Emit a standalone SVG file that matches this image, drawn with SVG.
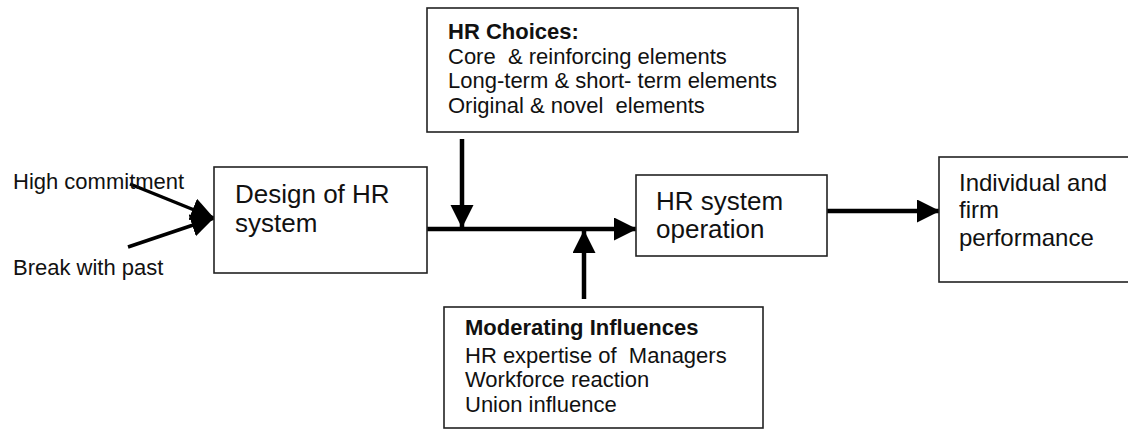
<svg xmlns="http://www.w3.org/2000/svg" width="1128" height="430" viewBox="0 0 1128 430">
<defs>
<style>
.box{fill:#fff;stroke:#222;stroke-width:1.6}
.t{font-family:"Liberation Sans",Arial,sans-serif;fill:#111;white-space:pre}
.s22{font-size:22px}
.s26{font-size:26px}
.s24{font-size:24px}
.b{font-weight:bold}
.c{stroke:#000;fill:none}
</style>
<marker id="ah" markerUnits="userSpaceOnUse" markerWidth="24" markerHeight="24" refX="23" refY="11.5" orient="auto">
<path d="M0,0 L23,11.5 L0,23 Z" fill="#000"/>
</marker>
</defs>
<rect width="1128" height="430" fill="#fff"/>
<g id="connectors">
<line class="c" x1="130" y1="184" x2="214" y2="218" stroke-width="3.5" marker-end="url(#ah)"/>
<line class="c" x1="128" y1="247" x2="214" y2="218" stroke-width="3.5" marker-end="url(#ah)"/>
<line class="c" x1="427" y1="229" x2="637" y2="229" stroke-width="4.5" marker-end="url(#ah)"/>
<line class="c" x1="462" y1="139" x2="462" y2="228" stroke-width="4.5" marker-end="url(#ah)"/>
<line class="c" x1="584" y1="299" x2="584" y2="230" stroke-width="4.5" marker-end="url(#ah)"/>
<line class="c" x1="827" y1="211" x2="940" y2="211" stroke-width="4.5" marker-end="url(#ah)"/>
</g>
<g id="label-high-commitment">
<text class="t s22" x="13" y="189">High commitment</text>
</g>
<g id="label-break">
<text class="t s22" x="13" y="275">Break with past</text>
</g>
<g id="design">
<rect class="box" x="214" y="167" width="213" height="106"/>
<text class="t s26" x="235" y="203">Design of HR</text>
<text class="t s26" x="235" y="232">system</text>
</g>
<g id="hr-choices">
<rect class="box" x="427" y="8" width="371" height="124"/>
<text class="t s22 b" x="448" y="39">HR Choices:</text>
<text class="t s22" x="448" y="64">Core  &amp; reinforcing elements</text>
<text class="t s22" x="448" y="88">Long-term &amp; short- term elements</text>
<text class="t s22" x="448" y="113">Original &amp; novel  elements</text>
</g>
<g id="operation">
<rect class="box" x="636" y="175" width="191" height="81"/>
<text class="t s26" x="656" y="210">HR system</text>
<text class="t s26" x="656" y="238">operation</text>
</g>
<g id="performance">
<rect class="box" x="939" y="157" width="200" height="125"/>
<text class="t s24" x="959" y="191">Individual and</text>
<text class="t s24" x="959" y="218">firm</text>
<text class="t s24" x="959" y="246">performance</text>
</g>
<g id="moderating">
<rect class="box" x="444" y="307" width="319" height="121"/>
<text class="t s22 b" x="465" y="335">Moderating Influences</text>
<text class="t s22" x="465" y="363">HR expertise of  Managers</text>
<text class="t s22" x="465" y="387">Workforce reaction</text>
<text class="t s22" x="465" y="412">Union influence</text>
</g>
</svg>
